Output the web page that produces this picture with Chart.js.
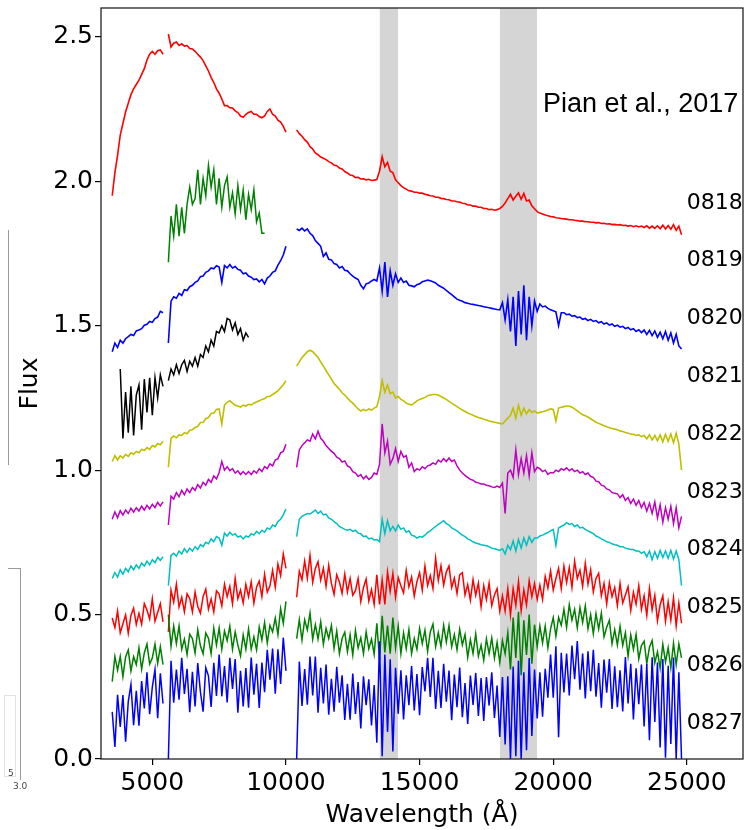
<!DOCTYPE html>
<html>
<head>
<meta charset="utf-8">
<script src="https://cdn.jsdelivr.net/npm/chart.js@4.4.1/dist/chart.umd.min.js"></script>
<style>
  body { margin: 0; background: #fff; }
  #wrap { position: relative; width: 744px; height: 830px; }
  .edge { position: absolute; background: #9a9a9a; }
  .box { position: absolute; border: 1px solid #e2e2e2; }
  .tiny { position: absolute; font: 9px "DejaVu Sans", sans-serif; color: #444; }
</style>
</head>
<body>
<div id="wrap">
  <canvas id="spectra" width="744" height="830"></canvas>
  <!-- bits of a neighbouring panel that sit at the left edge of the crop -->
  <div class="edge" style="left:8px; top:230px; width:1px; height:235px;"></div>
  <div class="edge" style="left:8px; top:568px; width:13px; height:1px;"></div>
  <div class="edge" style="left:20px; top:568px; width:1px; height:212px;"></div>
  <div class="box" style="left:4px; top:695px; width:10px; height:80px;"></div>
  <div class="tiny" style="left:8px; top:768px;">5</div>
  <div class="tiny" style="left:13px; top:781px;">3.0</div>
</div>
<script>
// wavelength samples (Angstrom); null entries break the line
const wave = [
  3500, 3600, 3700, 3800, 3900, 4000, 4100, 4200, 4300, 4400,
  4500, 4600, 4700, 4800, 4900, 5000, 5100, 5200, 5300, 5400,
  5500,
  5600, 5700, 5800, 5900, 6000, 6100, 6200, 6300, 6400, 6500,
  6600, 6700, 6800, 6900, 7000, 7100, 7200, 7300, 7400, 7500,
  7600, 7700, 7800, 7900, 8000, 8100, 8200, 8300, 8400, 8500,
  8600, 8700, 8800, 8900, 9000, 9100, 9200, 9300, 9400, 9500,
  9600, 9700, 9800, 9900, 10000,
  10200,
  10400, 10500, 10600, 10700, 10800, 10900, 11000, 11100, 11200, 11300,
  11400, 11500, 11600, 11700, 11800, 11900, 12000, 12100, 12200, 12300,
  12400, 12500, 12600, 12700, 12800, 12900, 13000, 13100, 13200, 13300,
  13400, 13500, 13600, 13700, 13800, 13900, 14000, 14100, 14200, 14300,
  14400, 14500, 14600, 14700, 14800, 14900, 15000, 15100, 15200, 15300,
  15400, 15500, 15600, 15700, 15800, 15900, 16000, 16100, 16200, 16300,
  16400, 16500, 16600, 16700, 16800, 16900, 17000, 17100, 17200, 17300,
  17400, 17500, 17600, 17700, 17800, 17900, 18000, 18100, 18200, 18300,
  18400, 18500, 18600, 18700, 18800, 18900, 19000, 19100, 19200, 19300,
  19400, 19500, 19600, 19700, 19800, 19900, 20000, 20100, 20200, 20300,
  20400, 20500, 20600, 20700, 20800, 20900, 21000, 21100, 21200, 21300,
  21400, 21500, 21600, 21700, 21800, 21900, 22000, 22100, 22200, 22300,
  22400, 22500, 22600, 22700, 22800, 22900, 23000, 23100, 23200, 23300,
  23400, 23500, 23600, 23700, 23800, 23900, 24000, 24100, 24200, 24300,
  24400, 24500, 24600, 24700, 24800
];

// flux with vertical offsets
const flux0818 = [
  1.95, 2.03, 2.09, 2.16, 2.20, 2.24, 2.27, 2.30, 2.32, 2.335,
  2.35, 2.37, 2.39, 2.42, 2.44, 2.45, 2.44, 2.452, 2.455, 2.44,
  null,
  2.51, 2.465, 2.478, 2.482, 2.47, 2.476, 2.468, 2.47, 2.46, 2.458,
  2.45, 2.44, 2.43, 2.418, 2.40, 2.382, 2.36, 2.342, 2.32, 2.305,
  2.285, 2.262, 2.262, 2.255, 2.254, 2.244, 2.238, 2.226, 2.222, 2.232,
  2.238, 2.242, 2.232, 2.232, 2.224, 2.22, 2.226, 2.242, 2.25, 2.232,
  2.226, 2.212, 2.205, 2.19, 2.17,
  null,
  2.178, 2.165, 2.156, 2.144, 2.136, 2.12, 2.112, 2.098, 2.092, 2.084,
  2.08, 2.075, 2.068, 2.064, 2.056, 2.054, 2.046, 2.043, 2.034, 2.029,
  2.022, 2.02, 2.013, 2.014, 2.008, 2.009, 2.005, 2.007, 2.003, 2.004,
  2.006, 2.035, 2.085, 2.05, 2.065, 2.035, 2.03, 2.005, 1.995, 1.985,
  1.978, 1.973, 1.967, 1.966, 1.962, 1.962, 1.959, 1.959, 1.955, 1.953,
  1.95, 1.949, 1.945, 1.945, 1.941, 1.94, 1.937, 1.936, 1.932, 1.932,
  1.929, 1.928, 1.924, 1.923, 1.918, 1.918, 1.914, 1.914, 1.91, 1.91,
  1.906, 1.906, 1.902, 1.903, 1.9, 1.902, 1.906, 1.913, 1.925, 1.94,
  1.955, 1.935, 1.948, 1.96, 1.938, 1.958, 1.932, 1.935, 1.915, 1.905,
  1.895, 1.89, 1.887, 1.883, 1.881, 1.878, 1.877, 1.874, 1.873, 1.871,
  1.87, 1.869, 1.867, 1.867, 1.865, 1.864, 1.862, 1.862, 1.86, 1.86,
  1.858, 1.858, 1.856, 1.857, 1.854, 1.855, 1.852, 1.853, 1.85, 1.851,
  1.849, 1.85, 1.847, 1.848, 1.845, 1.847, 1.843, 1.846, 1.842, 1.845,
  1.84, 1.846, 1.838, 1.845, 1.837, 1.846, 1.836, 1.848, 1.835, 1.847,
  1.834, 1.85, 1.83, 1.845, 1.815
];

// 0819 starts at 5600 A
const flux0819 = [
  1.72, 1.88, 1.81, 1.92, 1.81, 1.91, 1.82, 1.92, 1.98, 1.92,
  1.94, 2.04, 1.92, 2.01, 1.95, 2.055, 1.98, 2.04, 1.92, 2.01,
  1.91, 1.985, 2.015, 1.91, 1.96, 1.887, 1.985, 1.902, 1.97, 1.867,
  1.955, 1.902, 1.97, 1.86, 1.89, 1.82, 1.82
];

const flux0820 = [
  1.41, 1.44, 1.425, 1.45, 1.44, 1.455, 1.462, 1.47, 1.466, 1.482,
  1.485, 1.49, 1.502, 1.505, 1.515, 1.512, 1.525, 1.53, 1.55, 1.545,
  null,
  1.44, 1.585, 1.60, 1.595, 1.612, 1.605, 1.625, 1.622, 1.635, 1.64,
  1.65, 1.655, 1.67, 1.672, 1.685, 1.69, 1.70, 1.697, 1.708, 1.703,
  1.65, 1.708, 1.70, 1.712, 1.70, 1.705, 1.695, 1.692, 1.68, 1.683,
  1.672, 1.668, 1.66, 1.662, 1.652, 1.66, 1.645, 1.665, 1.672, 1.685,
  1.69, 1.71, 1.725, 1.745, 1.775,
  null,
  1.835, 1.83, 1.838, 1.828, 1.835, 1.82, 1.812, 1.795, 1.785, 1.775,
  1.74, 1.752, 1.73, 1.728, 1.715, 1.712, 1.70, 1.705, 1.692, 1.69,
  1.68, 1.672, 1.665, 1.66, 1.64, 1.628, 1.645, 1.648, 1.655, 1.66,
  1.655, 1.70, 1.62, 1.72, 1.60, 1.69, 1.64, 1.68, 1.65, 1.665,
  1.65, 1.655, 1.64, 1.638, 1.635, 1.642, 1.645, 1.652, 1.655, 1.658,
  1.656, 1.652, 1.648, 1.64, 1.635, 1.63, 1.622, 1.615, 1.608, 1.60,
  1.592, 1.588, 1.585, 1.58, 1.578, 1.575, 1.574, 1.572, 1.57, 1.568,
  1.566, 1.564, 1.562, 1.56, 1.558, 1.556, 1.555, 1.58, 1.52, 1.59,
  1.48, 1.60, 1.43, 1.62, 1.47, 1.64, 1.45, 1.60, 1.50, 1.585,
  1.55, 1.575, 1.565, 1.568, 1.56, 1.555, 1.552, 1.548, 1.50, 1.545,
  1.545, 1.538, 1.54, 1.533, 1.535, 1.528, 1.53, 1.522, 1.525, 1.518,
  1.522, 1.515, 1.518, 1.51, 1.514, 1.506, 1.51, 1.502, 1.506, 1.498,
  1.502, 1.495, 1.498, 1.49, 1.494, 1.486, 1.49, 1.48, 1.486, 1.476,
  1.485, 1.47, 1.484, 1.466, 1.482, 1.46, 1.478, 1.455, 1.48, 1.45,
  1.475, 1.44, 1.47, 1.43, 1.42
];

// 0821 starts at 3800 A and stops at 8600 A
const flux0821 = [
  1.35, 1.11, 1.27, 1.13, 1.29, 1.12, 1.26,
  1.295, 1.14, 1.315, 1.2, 1.32, 1.19, 1.32, 1.25, 1.33, 1.29,
  null,
  1.31, 1.35, 1.33, 1.365, 1.335, 1.365, 1.38, 1.342, 1.377, 1.36,
  1.39, 1.36, 1.40, 1.39, 1.43, 1.41, 1.45, 1.43, 1.48, 1.475,
  1.50, 1.48, 1.525, 1.52, 1.485, 1.51, 1.47, 1.49, 1.45, 1.475,
  1.46
];

const flux0822 = [
  1.03, 1.05, 1.035, 1.05, 1.042, 1.055, 1.048, 1.06, 1.055, 1.065,
  1.06, 1.072, 1.068, 1.078, 1.072, 1.085, 1.08, 1.092, 1.088, 1.10,
  null,
  1.01, 1.11, 1.118, 1.112, 1.122, 1.12, 1.13, 1.126, 1.138, 1.14,
  1.148, 1.152, 1.165, 1.165, 1.178, 1.182, 1.196, 1.198, 1.21, 1.212,
  1.16, 1.225, 1.235, 1.24, 1.232, 1.225, 1.222, 1.218, 1.225, 1.222,
  1.228, 1.226, 1.232, 1.236, 1.24, 1.245, 1.248, 1.255, 1.255, 1.262,
  1.268, 1.274, 1.285, 1.296, 1.31,
  null,
  1.36, 1.375, 1.39, 1.40, 1.41, 1.415, 1.41, 1.40, 1.39, 1.375,
  1.36, 1.345, 1.33, 1.315, 1.30, 1.29, 1.28, 1.268, 1.26, 1.25,
  1.24, 1.232, 1.222, 1.212, 1.205, 1.21, 1.206, 1.212, 1.208, 1.215,
  1.22, 1.255, 1.31, 1.27, 1.295, 1.265, 1.27, 1.25, 1.255, 1.245,
  1.24, 1.232, 1.228, 1.226, 1.232, 1.24, 1.245, 1.248, 1.252, 1.258,
  1.26, 1.262, 1.262, 1.26, 1.255, 1.25, 1.245, 1.238, 1.232, 1.226,
  1.22, 1.214, 1.208, 1.203, 1.198, 1.194, 1.19, 1.186, 1.182, 1.18,
  1.176, 1.174, 1.17, 1.168, 1.166, 1.164, 1.162, 1.16, 1.17, 1.18,
  1.19, 1.215, 1.18, 1.225, 1.19, 1.215, 1.195, 1.21, 1.2, 1.205,
  1.198, 1.2, 1.202, 1.205, 1.208, 1.212, 1.21, 1.17, 1.215, 1.218,
  1.22, 1.222, 1.222, 1.218, 1.212, 1.205, 1.198, 1.192, 1.188, 1.184,
  1.178, 1.172, 1.166, 1.162, 1.158, 1.154, 1.15, 1.147, 1.144, 1.142,
  1.14, 1.136, 1.134, 1.13, 1.128, 1.125, 1.124, 1.12, 1.122, 1.116,
  1.12, 1.108, 1.122, 1.105, 1.12, 1.102, 1.122, 1.098, 1.124, 1.10,
  1.125, 1.095, 1.128, 1.09, 1.0
];

const flux0823 = [
  0.83, 0.855, 0.835, 0.86, 0.845, 0.862, 0.85, 0.868, 0.855, 0.87,
  0.858, 0.875, 0.862, 0.878, 0.866, 0.882, 0.87, 0.888, 0.876, 0.89,
  null,
  0.81, 0.91, 0.9, 0.922, 0.908, 0.93, 0.915, 0.935, 0.922, 0.94,
  0.93, 0.95, 0.938, 0.958, 0.948, 0.968, 0.958, 0.98, 0.97, 0.992,
  1.03, 1.0, 1.012, 0.998, 1.005, 0.99, 0.998, 0.985, 0.995, 0.985,
  0.995, 0.985, 0.998, 0.99, 1.005, 0.995, 1.012, 1.005, 1.022, 1.015,
  1.035, 1.04, 1.06, 1.065, 1.09,
  null,
  1.01, 1.07, 1.085, 1.095, 1.105, 1.10, 1.125, 1.108, 1.135, 1.11,
  1.10, 1.085, 1.075, 1.065, 1.058, 1.045, 1.04, 1.028, 1.032, 1.015,
  1.01, 0.995, 0.99, 0.978, 0.985, 0.97, 0.98, 0.968, 0.975, 0.99,
  0.985, 1.02, 1.16, 1.06, 1.1, 1.02, 1.04, 1.075, 1.03, 1.065,
  1.045, 1.05, 1.01, 1.025, 0.995, 1.005, 1.0, 1.012, 1.005, 1.015,
  1.018, 1.025, 1.02, 1.035, 1.028, 1.04, 1.03, 1.042, 1.03, 1.035,
  1.015, 1.0, 0.99, 0.982, 0.975, 0.968, 0.965, 0.958, 0.956, 0.952,
  0.952, 0.948, 0.946, 0.942, 0.94, 0.945, 0.94, 0.955, 0.85, 0.99,
  1.0, 0.975, 1.07, 0.985, 1.04, 0.99, 1.05, 0.98, 1.06, 0.995,
  1.01, 1.005, 0.995, 1.0, 0.985, 0.992, 0.99, 1.0, 0.995, 1.005,
  1.0, 1.008, 0.998, 1.005, 0.995, 1.0, 0.99, 0.995, 0.985, 0.99,
  0.978, 0.975, 0.962, 0.96, 0.948, 0.945, 0.935, 0.932, 0.922, 0.92,
  0.918, 0.905, 0.915, 0.895, 0.905, 0.885, 0.9, 0.878, 0.895, 0.87,
  0.888, 0.858, 0.885, 0.85, 0.89, 0.835, 0.88, 0.82, 0.87, 0.83,
  0.875, 0.815, 0.87, 0.8, 0.84
];

const flux0824 = [
  0.625, 0.645, 0.63, 0.655, 0.64, 0.66, 0.648, 0.668, 0.655, 0.672,
  0.66, 0.678, 0.668, 0.685, 0.672, 0.69, 0.68, 0.698, 0.688, 0.70,
  null,
  0.60, 0.705, 0.712, 0.702, 0.72, 0.71, 0.728, 0.715, 0.73, 0.72,
  0.735, 0.725, 0.742, 0.735, 0.75, 0.745, 0.762, 0.752, 0.77, 0.765,
  0.74, 0.782, 0.772, 0.785, 0.775, 0.78, 0.768, 0.772, 0.762, 0.772,
  0.768, 0.78, 0.775, 0.788, 0.78, 0.792, 0.785, 0.8, 0.795, 0.81,
  0.805, 0.822, 0.83, 0.845, 0.865,
  null,
  0.77, 0.83, 0.84, 0.845, 0.85, 0.848, 0.855, 0.862, 0.85, 0.858,
  0.845, 0.848, 0.835, 0.83, 0.822, 0.815, 0.805, 0.8, 0.795, 0.792,
  0.795, 0.788, 0.792, 0.782, 0.78, 0.77, 0.772, 0.762, 0.765, 0.758,
  0.76, 0.752, 0.83, 0.78, 0.825, 0.79, 0.805, 0.79, 0.81, 0.795,
  0.8, 0.785, 0.79, 0.775, 0.772, 0.765, 0.77, 0.768, 0.775, 0.785,
  0.79, 0.798, 0.805, 0.812, 0.818, 0.825, 0.815, 0.81, 0.8, 0.795,
  0.79, 0.782, 0.775, 0.77, 0.762, 0.758, 0.752, 0.748, 0.745, 0.742,
  0.74, 0.738, 0.735, 0.73, 0.728, 0.725, 0.722, 0.728, 0.71, 0.74,
  0.725, 0.755, 0.72, 0.76, 0.73, 0.765, 0.74, 0.77, 0.75, 0.765,
  0.765, 0.772, 0.775, 0.78, 0.784, 0.79, 0.795, 0.74, 0.8, 0.805,
  0.81, 0.818, 0.812, 0.815, 0.805, 0.81, 0.8, 0.802, 0.795, 0.79,
  0.785, 0.78, 0.772, 0.768, 0.762, 0.758, 0.752, 0.75, 0.745, 0.742,
  0.74, 0.735, 0.735, 0.73, 0.728, 0.725, 0.725, 0.72, 0.72, 0.712,
  0.718, 0.7, 0.72, 0.69, 0.718, 0.695, 0.722, 0.698, 0.72, 0.695,
  0.722, 0.692, 0.72, 0.69, 0.60
];

const flux0825 = [
  0.488, 0.455, 0.512, 0.437, 0.468, 0.499, 0.435, 0.497, 0.522, 0.466,
  0.504, 0.467, 0.538, 0.516, 0.485, 0.555, 0.477, 0.507, 0.538, 0.475,
  null,
  0.44, 0.585, 0.543, 0.605, 0.526, 0.56, 0.51, 0.572, 0.556, 0.509,
  0.578, 0.528, 0.505, 0.562, 0.588, 0.519, 0.554, 0.509, 0.582, 0.571,
  0.53, 0.605, 0.562, 0.598, 0.537, 0.625, 0.555, 0.585, 0.54, 0.604,
  0.562, 0.613, 0.54, 0.595, 0.616, 0.562, 0.639, 0.578, 0.599, 0.653,
  0.595, 0.675, 0.635, 0.71, 0.66,
  null,
  0.56, 0.65, 0.62, 0.685, 0.626, 0.705, 0.612, 0.66, 0.683, 0.619,
  0.66, 0.598, 0.671, 0.608, 0.57, 0.638, 0.613, 0.573, 0.64, 0.578,
  0.625, 0.567, 0.583, 0.625, 0.545, 0.594, 0.623, 0.547, 0.586, 0.535,
  0.638, 0.535, 0.62, 0.535, 0.648, 0.58, 0.643, 0.56, 0.628, 0.60,
  0.575, 0.653, 0.596, 0.63, 0.564, 0.614, 0.645, 0.584, 0.668, 0.601,
  0.635, 0.59, 0.695, 0.618, 0.669, 0.602, 0.648, 0.668, 0.594, 0.626,
  0.573, 0.637, 0.645, 0.568, 0.604, 0.55, 0.621, 0.567, 0.609, 0.527,
  0.6, 0.552, 0.609, 0.531, 0.568, 0.59, 0.512, 0.565, 0.512, 0.59,
  0.498, 0.59, 0.532, 0.615, 0.513, 0.585, 0.533, 0.617, 0.562, 0.607,
  0.552, 0.602, 0.552, 0.632, 0.592, 0.651, 0.585, 0.625, 0.66, 0.59,
  0.668, 0.611, 0.663, 0.594, 0.685, 0.625, 0.654, 0.598, 0.678, 0.605,
  0.655, 0.578, 0.625, 0.643, 0.565, 0.608, 0.537, 0.61, 0.562, 0.594,
  0.531, 0.608, 0.54, 0.568, 0.596, 0.514, 0.577, 0.536, 0.6, 0.518,
  0.565, 0.497, 0.59, 0.516, 0.567, 0.478, 0.534, 0.565, 0.477, 0.544,
  0.481, 0.558, 0.461, 0.54, 0.47
];

const flux0826 = [
  0.268, 0.355, 0.308, 0.355, 0.285, 0.353, 0.377, 0.305, 0.354, 0.327,
  0.385, 0.311, 0.367, 0.398, 0.329, 0.35, 0.398, 0.331, 0.389, 0.327,
  null,
  0.5, 0.39, 0.46, 0.40, 0.46, 0.38, 0.415, 0.362, 0.432, 0.417,
  0.367, 0.447, 0.392, 0.364, 0.436, 0.418, 0.365, 0.453, 0.395, 0.453,
  0.38, 0.443, 0.41, 0.46, 0.38, 0.44, 0.395, 0.357, 0.43, 0.38,
  0.45, 0.38, 0.423, 0.378, 0.457, 0.412, 0.472, 0.402, 0.463, 0.44,
  0.488, 0.431, 0.52, 0.47, 0.546,
  null,
  0.417, 0.482, 0.412, 0.482, 0.447, 0.505, 0.415, 0.465, 0.415, 0.475,
  0.397, 0.452, 0.417, 0.462, 0.383, 0.443, 0.365, 0.417, 0.439, 0.372,
  0.43, 0.36, 0.445, 0.385, 0.42, 0.365, 0.44, 0.382, 0.415, 0.363,
  0.47, 0.343, 0.496, 0.369, 0.462, 0.365, 0.49, 0.385, 0.46, 0.365,
  0.437, 0.382, 0.448, 0.365, 0.417, 0.38, 0.452, 0.399, 0.446, 0.373,
  0.44, 0.467, 0.389, 0.437, 0.39, 0.463, 0.405, 0.462, 0.389, 0.431,
  0.378, 0.449, 0.395, 0.431, 0.352, 0.413, 0.365, 0.433, 0.356, 0.394,
  0.342, 0.416, 0.365, 0.419, 0.349, 0.404, 0.334, 0.41, 0.365, 0.437,
  0.31, 0.49, 0.35, 0.51, 0.29, 0.48, 0.36, 0.50, 0.33, 0.465,
  0.388, 0.46, 0.402, 0.46, 0.385, 0.45, 0.49, 0.425, 0.49, 0.463,
  0.518, 0.456, 0.534, 0.481, 0.518, 0.454, 0.524, 0.473, 0.53, 0.451,
  0.50, 0.434, 0.503, 0.45, 0.505, 0.423, 0.456, 0.48, 0.399, 0.448,
  0.395, 0.459, 0.393, 0.437, 0.356, 0.43, 0.38, 0.431, 0.347, 0.393,
  0.408, 0.33, 0.387, 0.41, 0.333, 0.371, 0.314, 0.397, 0.336, 0.385,
  0.315, 0.401, 0.327, 0.398, 0.35
];

const flux0827 = [
  0.163, 0.042, 0.222, 0.111, 0.221, 0.06, 0.199, 0.258, 0.117, 0.236,
  0.115, 0.27, 0.175, 0.30, 0.155, 0.249, 0.31, 0.141, 0.297, 0.192,
  null,
  0.0, 0.34, 0.195, 0.31, 0.205, 0.35, 0.225, 0.312, 0.162, 0.302,
  0.182, 0.332, 0.232, 0.164, 0.316, 0.288, 0.18, 0.333, 0.218, 0.362,
  0.217, 0.322, 0.196, 0.35, 0.243, 0.346, 0.16, 0.305, 0.182, 0.315,
  0.178, 0.351, 0.223, 0.33, 0.177, 0.334, 0.231, 0.378, 0.275, 0.382,
  0.226, 0.38, 0.26, 0.42, 0.305,
  null,
  0.0, 0.337, 0.184, 0.311, 0.188, 0.355, 0.22, 0.355, 0.16, 0.316,
  0.192, 0.327, 0.153, 0.278, 0.164, 0.319, 0.195, 0.29, 0.135, 0.26,
  0.136, 0.296, 0.156, 0.266, 0.106, 0.286, 0.186, 0.276, 0.116, 0.256,
  0.056, 0.408, 0.01, 0.362, 0.094, 0.345, 0.026, 0.316, 0.157, 0.307,
  0.137, 0.29, 0.186, 0.322, 0.168, 0.294, 0.152, 0.318, 0.234, 0.35,
  0.215, 0.35, 0.173, 0.305, 0.177, 0.33, 0.198, 0.306, 0.134, 0.292,
  0.179, 0.317, 0.145, 0.263, 0.121, 0.289, 0.187, 0.298, 0.149, 0.28,
  0.132, 0.284, 0.185, 0.30, 0.142, 0.254, 0.076, 0.284, 0.05, 0.286,
  0.0, 0.32, 0.01, 0.34, 0.0, 0.30, 0.03, 0.35, 0.08, 0.31,
  0.14, 0.30, 0.146, 0.312, 0.212, 0.362, 0.212, 0.39, 0.075, 0.368,
  0.23, 0.365, 0.22, 0.393, 0.276, 0.408, 0.24, 0.365, 0.21, 0.373,
  0.235, 0.378, 0.216, 0.332, 0.178, 0.344, 0.23, 0.346, 0.173, 0.321,
  0.179, 0.307, 0.165, 0.353, 0.192, 0.33, 0.137, 0.314, 0.19, 0.327,
  0.113, 0.329, 0.065, 0.352, 0.128, 0.334, 0.04, 0.346, 0.004, 0.323,
  0.052, 0.351, 0.0, 0.30, 0.0
];

const epochs = ["0818", "0819", "0820", "0821", "0822", "0823", "0824", "0825", "0826", "0827"];
const fluxes = [flux0818, flux0819, flux0820, flux0821, flux0822, flux0823, flux0824, flux0825, flux0826, flux0827];
const firstWave = [3500, 5600, 3500, 3800, 3500, 3500, 3500, 3500, 3500, 3500];
const colors = ["#ff0000", "#008000", "#0000ff", "#000000", "#bfbf00", "#bf00bf", "#00bfbf", "#ff0000", "#008000", "#0000ff"];
const lineWidths = [1.6, 1.5, 1.6, 1.5, 1.6, 1.5, 1.5, 1.5, 1.5, 1.5];

// where the epoch labels sit (data coords)
const labelX = 25000;
const labelY = [1.925, 1.725, 1.525, 1.325, 1.125, 0.925, 0.725, 0.525, 0.325, 0.125];
const source = "Pian et al., 2017";
const sourceX = 19620;
const sourceY = 2.265;

// telluric bands
const bandStart = [13500, 18000];
const bandEnd = [14200, 19400];

const xTicks = [5000, 10000, 15000, 20000, 25000];
const yTicks = [0, 0.5, 1.0, 1.5, 2.0, 2.5];

const datasets = fluxes.map((f, i) => {
  const start = wave.indexOf(firstWave[i]);
  return {
    label: epochs[i],
    data: f.map((v, k) => ({ x: wave[start + k], y: v })),
    borderColor: colors[i],
    borderWidth: lineWidths[i],
    pointRadius: 0,
    tension: 0,
    spanGaps: false,
    fill: false,
    order: 20 - i
  };
});

bandStart.forEach((b, i) => {
  datasets.push({
    label: "band" + i,
    data: [{ x: b, y: 2.6 }, { x: bandEnd[i], y: 2.6 }],
    borderWidth: 0,
    pointRadius: 0,
    backgroundColor: "#d5d5d5",
    fill: "origin",
    order: 100
  });
});

const frameAndText = {
  id: "frameAndText",
  afterDatasetsDraw(chart) {
    const { ctx, chartArea: a, scales: { x, y } } = chart;
    ctx.save();
    ctx.strokeStyle = "#222";
    ctx.lineWidth = 1.3;
    ctx.strokeRect(a.left, a.top, a.right - a.left, a.bottom - a.top);
    ctx.fillStyle = "#000";
    ctx.textBaseline = "middle";
    ctx.textAlign = "left";
    ctx.font = '22px "DejaVu Sans"';
    epochs.forEach((e, i) => {
      ctx.fillText(e, x.getPixelForValue(labelX), y.getPixelForValue(labelY[i]));
    });
    ctx.font = '27px "Liberation Sans"';
    ctx.fillText(source, x.getPixelForValue(sourceX), y.getPixelForValue(sourceY));
    ctx.restore();
  }
};

const tickFont = { family: "DejaVu Sans", size: 25 };

new Chart(document.getElementById("spectra").getContext("2d"), {
  type: "line",
  data: { datasets: datasets },
  plugins: [frameAndText],
  options: {
    responsive: false,
    animation: false,
    events: [],
    layout: { padding: { top: 8, right: 1, bottom: 0, left: 0 } },
    plugins: { legend: { display: false }, tooltip: { enabled: false } },
    scales: {
      x: {
        type: "linear",
        min: 3080,
        max: 27100,
        afterBuildTicks: s => { s.ticks = xTicks.map(v => ({ value: v })); },
        afterFit: s => { s.height = 71; s.paddingLeft = 0; s.paddingRight = 0; },
        ticks: { font: tickFont, color: "#000", padding: 3, maxRotation: 0, autoSkip: false, callback: v => String(v) },
        grid: { drawOnChartArea: false, drawTicks: true, tickLength: 6, color: "#000", lineWidth: 1.2 },
        border: { display: false },
        title: { display: true, text: "Wavelength (Å)", font: tickFont, color: "#000", padding: { top: -3, bottom: 0 } }
      },
      y: {
        min: 0,
        max: 2.6,
        afterBuildTicks: s => { s.ticks = yTicks.map(v => ({ value: v })); },
        afterFit: s => { s.width = 101; s.paddingTop = 0; s.paddingBottom = 0; },
        ticks: { font: tickFont, color: "#000", padding: 2, callback: v => v.toFixed(1) },
        grid: { drawOnChartArea: false, drawTicks: true, tickLength: 6, color: "#000", lineWidth: 1.2 },
        border: { display: false },
        title: { display: true, text: "Flux", font: tickFont, color: "#000", padding: { top: 15, bottom: 0 } }
      }
    }
  }
});
</script>
</body>
</html>
